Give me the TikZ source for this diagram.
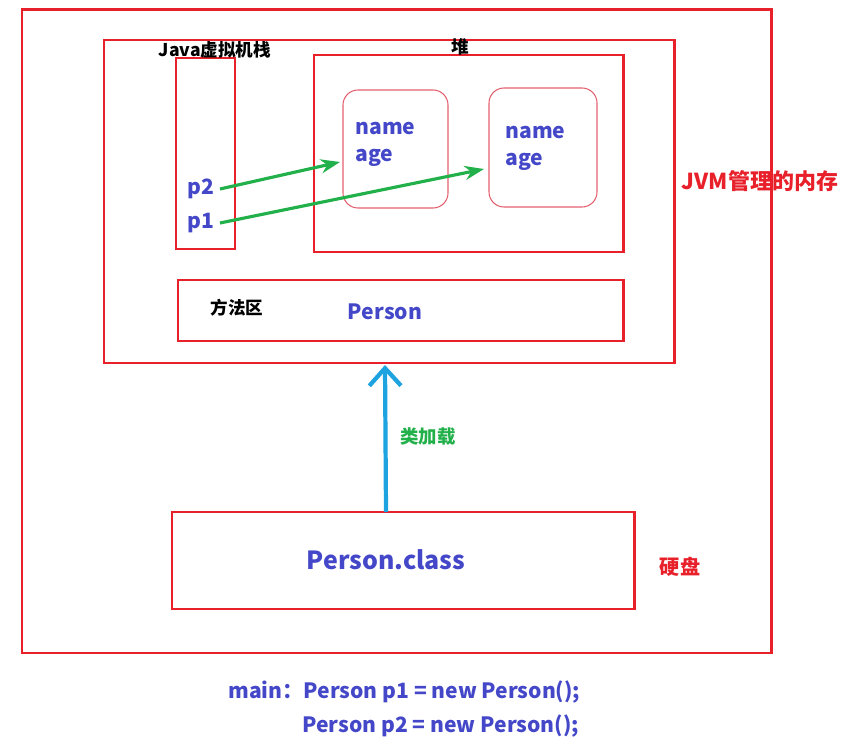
\documentclass[tikz,border=0pt]{standalone}
\usepackage{fontspec}
\setmainfont{Noto Sans CJK SC}
\usepackage{xcolor}
\usetikzlibrary{arrows.meta}
\definecolor{boxred}{RGB}{232,32,42}
\definecolor{objred}{RGB}{226,96,110}
\definecolor{txtblue}{RGB}{68,72,200}
\definecolor{arrgreen}{RGB}{34,176,74}
\definecolor{loadblue}{RGB}{28,163,224}
\begin{document}
\begin{tikzpicture}[x=0.02cm, y=-0.02cm,
    kasten/.style={draw=boxred, line width=1.7pt},
    objekt/.style={draw=objred, line width=0.6pt, rounded corners=0.3cm},
    schwarz/.style={font=\bfseries\fontsize{10}{12}\selectfont, text=black, inner sep=0pt},
    blau/.style={font=\bfseries\fontsize{12}{15.5}\selectfont, text=txtblue, inner sep=0pt},
    rot/.style={font=\bfseries\fontsize{12.5}{14}\selectfont, text=boxred, inner sep=0pt},
    zeiger/.style={arrgreen, line width=1.8pt, -{Stealth[length=11pt, width=8pt]}},
]
\useasboundingbox (0,0) rectangle (841,749);

\draw[kasten] (22,10) rectangle (771,653);
\draw[kasten] (104,40) rectangle (674,363);
\draw[kasten] (176,58) rectangle (235,249);
\draw[kasten] (314,55) rectangle (623,252);
\draw[objekt] (343,90) rectangle (448,208);
\draw[objekt] (489,88) rectangle (597,207);
\draw[kasten] (178,280) rectangle (623,341);
\draw[kasten] (172,512) rectangle (634,609);

\node [schwarz] (stack) at (215,50) {Java虚拟机栈};
\node [schwarz] (heap) at (460,47) {堆};
\node [schwarz] (methode) at (237,308) {方法区};
\node [rot] (jvm) at (760,181) {JVM管理的内存};
\node [rot, font=\bfseries\fontsize{11.5}{14}\selectfont] (disk) at (680,567) {硬盘};

\node [blau] (p2) at (201,189) {p2};
\node [blau] (p1) at (201,223) {p1};
\node [blau, align=left, anchor=north west] (felder1) at (355,122) {name\\age};
\node [blau, align=left, anchor=north west] (felder2) at (505,126) {name\\age};
\node [blau] (person) at (385,312) {Person};
\node [blau, font=\bfseries\fontsize{14.2}{18}\selectfont] (klasse) at (386,560) {Person.class};
\node [font=\bfseries\fontsize{10.5}{12}\selectfont, text=arrgreen, inner sep=0pt] (laden) at (428,437) {类加载};

\coordinate (ziel1) at (340,162);
\coordinate (ziel2) at (484,169);
\coordinate (jvmunten) at (385,365);
\draw[zeiger] ([xshift=3pt]p2.east) -- (ziel1);
\draw[zeiger] ([xshift=3pt]p1.east) -- (ziel2);
\draw[loadblue, line width=2.4pt, -{Straight Barb[length=10pt, width=18pt, line width=2.4pt]}] (klasse.north |- 0,512) -- (jvmunten);

\node [blau, anchor=west] (code1) at (228,692) {main：Person p1 = new Person();};
\node [blau, anchor=west] (code2) at (302,726) {Person p2 = new Person();};

\end{tikzpicture}
\end{document}
